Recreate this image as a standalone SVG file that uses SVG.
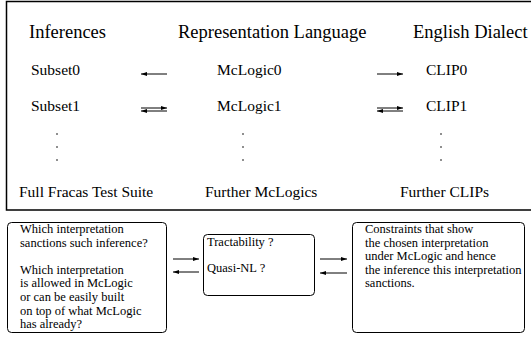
<svg xmlns="http://www.w3.org/2000/svg" width="531" height="338" viewBox="0 0 531 338">
<defs>
<marker id="ah" viewBox="0 0 6 4" refX="6" refY="2" markerWidth="6" markerHeight="4" markerUnits="userSpaceOnUse" orient="auto">
<path d="M0,0 L6,2 L0,4 Z" fill="#000"/>
</marker>
</defs>
<style>
text{font-family:"Liberation Serif","Times New Roman",serif;fill:#000}
.h{font-size:18.5px}
.r{font-size:15.5px}
.s{font-size:12.5px}
.box{fill:none;stroke:#000;stroke-width:1}
.ar{stroke:#000;stroke-width:1;fill:none;marker-end:url(#ah)}
.dot{fill:#000}
</style>
<rect width="531" height="338" fill="#fff"/>
<g id="frame"><path d="M540,1.5 H6.5 V210 H540" fill="none" stroke="#000" stroke-width="1.5"/></g>
<g id="col-inferences">
<text class="h" x="29" y="38">Inferences</text>
<text class="r" x="31" y="75">Subset0</text>
<text class="r" x="31" y="111">Subset1</text>
<circle class="dot" cx="57" cy="134" r="0.8"/><circle class="dot" cx="57" cy="147" r="0.8"/><circle class="dot" cx="57" cy="160" r="0.8"/>
<text class="r" x="19" y="197">Full Fracas Test Suite</text>
</g>
<g id="col-repr">
<text class="h" x="178" y="38">Representation Language</text>
<text class="r" x="217" y="75">McLogic0</text>
<text class="r" x="217" y="111">McLogic1</text>
<circle class="dot" cx="243" cy="134" r="0.8"/><circle class="dot" cx="243" cy="147" r="0.8"/><circle class="dot" cx="243" cy="160" r="0.8"/>
<text class="r" x="205" y="197">Further McLogics</text>
</g>
<g id="col-english">
<text class="h" x="413" y="38">English Dialect</text>
<text class="r" x="426" y="75">CLIP0</text>
<text class="r" x="426" y="111">CLIP1</text>
<circle class="dot" cx="441" cy="134" r="0.8"/><circle class="dot" cx="441" cy="147" r="0.8"/><circle class="dot" cx="441" cy="160" r="0.8"/>
<text class="r" x="400" y="197">Further CLIPs</text>
</g>
<g id="box-questions">
<rect class="box" x="7.5" y="222.5" width="159" height="110" rx="4"/>
<text class="s" x="20" y="233">Which interpretation</text>
<text class="s" x="20" y="246.6">sanctions such inference?</text>
<text class="s" x="20" y="273.8">Which interpretation</text>
<text class="s" x="20" y="287.4">is allowed in McLogic</text>
<text class="s" x="20" y="301">or can be easily built</text>
<text class="s" x="20" y="314.6">on top of what McLogic</text>
<text class="s" x="20" y="328.2">has already?</text>
</g>
<g id="box-tractability">
<rect class="box" x="203.5" y="234.5" width="111" height="61" rx="4"/>
<text class="s" x="207" y="246">Tractability ?</text>
<text class="s" x="207" y="272">Quasi-NL ?</text>
</g>
<g id="box-constraints">
<rect class="box" x="352.5" y="222.5" width="172" height="110" rx="4"/>
<text class="s" x="365" y="233">Constraints that show</text>
<text class="s" x="365" y="246.6">the chosen interpretation</text>
<text class="s" x="365" y="260.2">under McLogic and hence</text>
<text class="s" x="365" y="273.8">the inference this interpretation</text>
<text class="s" x="365" y="287.4">sanctions.</text>
</g>
<g id="connectors">
<line class="ar" x1="167" y1="74" x2="141" y2="74"/>
<line class="ar" x1="377" y1="74" x2="403" y2="74"/>
<line class="ar" x1="141" y1="108" x2="167" y2="108"/>
<line class="ar" x1="167" y1="111" x2="141" y2="111"/>
<line class="ar" x1="377" y1="108" x2="403" y2="108"/>
<line class="ar" x1="403" y1="111" x2="377" y2="111"/>
<line class="ar" x1="173" y1="259" x2="199" y2="259"/>
<line class="ar" x1="199" y1="272" x2="173" y2="272"/>
<line class="ar" x1="320" y1="259" x2="347" y2="259"/>
<line class="ar" x1="347" y1="273" x2="320" y2="273"/>
</g>
</svg>
